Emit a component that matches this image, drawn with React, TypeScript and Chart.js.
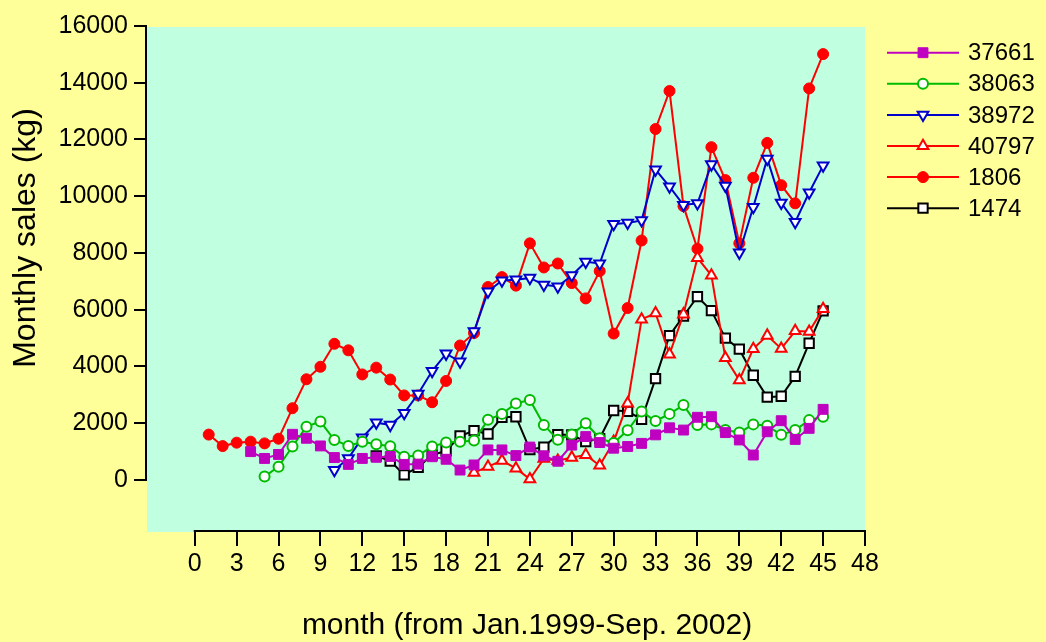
import React, { useEffect, useRef } from 'react';
import { Chart, registerables } from 'chart.js';
import { drawPoint } from 'chart.js/helpers';

Chart.register(...registerables);

// ---- data ----
const months = [
  1, 2, 3, 4, 5, 6, 7, 8, 9, 10, 11, 12, 13, 14, 15, 16, 17, 18, 19, 20, 21, 22, 23,
  24, 25, 26, 27, 28, 29, 30, 31, 32, 33, 34, 35, 36, 37, 38, 39, 40, 41, 42, 43, 44, 45,
];

const xTicks = [0, 3, 6, 9, 12, 15, 18, 21, 24, 27, 30, 33, 36, 39, 42, 45, 48];
const yTicks = [0, 2000, 4000, 6000, 8000, 10000, 12000, 14000, 16000];

const xTitle = 'month (from Jan.1999-Sep. 2002)';
const yTitle = 'Monthly sales (kg)';

const s37661 = [
  null, null, null, 1000, 760, 900, 1610, 1470, 1200, 790, 550, 760, 800,
  830, 550, 560, 820, 730, 350, 530, 1060, 1060, 860,
  1160, 850, 660, 1230, 1530, 1320, 1120, 1180, 1290, 1590,
  1840, 1760, 2210, 2230, 1670, 1410, 880, 1700, 2090, 1430,
  1820, 2490,
];

const s38063 = [
  null, null, null, null, 120, 470, 1180, 1880, 2060, 1410, 1200, 1350, 1260, 1190,
  820, 860, 1180, 1320, 1350, 1390, 2120, 2330, 2700, 2820,
  1940, 1420, 1600, 2000, 1470, 1300, 1750, 2410, 2080, 2330,
  2640, 1940, 1960, 1760, 1670, 1960, 1910, 1590, 1760, 2110,
  2230,
];

const s38972 = [
  null, null, null, null, null, null, null, null, null, 350, 760, 1490, 2020, 1940,
  2360, 3040, 3840, 4450, 4170, 5240, 6640, 7030, 7060, 7120,
  6880, 6820, 7210, 7690, 7630, 9020, 9060, 9150, 10940, 10340,
  9690, 9750, 11120, 10370, 8010, 9620, 11320, 9770, 9090, 10130,
  11080,
];

const s40797 = [
  null, null, null, null, null, null, null, null, null, null,
  null, null, null, null, null, null, null, null, null,
  260, 470, 680, 410, 30,
  750, 680, 790, 880, 510, 1350, 2700, 5660, 5880, 4430,
  5840, 7830, 7210, 4300, 3520, 4620, 5090, 4630, 5250, 5230,
  6030,
];

const s1806 = [
  1600, 1195, 1315, 1350, 1290, 1455, 2530, 3550, 3990, 4800,
  4570, 3720, 3960, 3540, 2980, 2980, 2740, 3490, 4740, 5180,
  6800, 7150, 6850, 8340, 7490, 7630, 6940, 6400, 7360, 5160,
  6060, 8440, 12370, 13710, 9650, 8150, 11730, 10570, 8340, 10650,
  11880, 10390, 9750, 13800, 15010,
];

const s1474 = [
  null, null, null, null, null, null, null, null, null, null, null, null,
  850, 670, 180, 450, 880, 1030, 1550, 1740, 1620, 2210,
  2230, 1070, 1160, 1600, 1590, 1350, 1460, 2450, 2420, 2140,
  3570, 5090, 5780, 6460, 5970, 5000, 4610, 3690, 2920, 2950,
  3650, 4820, 5960,
];

const seriesLabels = ['37661', '38063', '38972', '40797', '1806', '1474'];
const seriesValues = [s37661, s38063, s38972, s40797, s1806, s1474];

// ---- styles ----
const FONT = "'Liberation Sans', Arial, sans-serif";
const styles = [
  { color: '#C000C0', fill: '#C000C0', pointStyle: 'rect', radius: 7, rotation: 0, bw: 1 },
  { color: '#00BB00', fill: '#FFFFFF', pointStyle: 'circle', radius: 5, rotation: 0, bw: 2 },
  { color: '#0000CC', fill: '#FFFFFF', pointStyle: 'triangle', radius: 6.2, rotation: 180, bw: 2 },
  { color: '#FF0000', fill: '#FFFFFF', pointStyle: 'triangle', radius: 6.2, rotation: 0, bw: 2 },
  { color: '#FF0000', fill: '#FF0000', pointStyle: 'circle', radius: 5.5, rotation: 0, bw: 1 },
  { color: '#000000', fill: '#FFFFFF', pointStyle: 'rect', radius: 6.6, rotation: 0, bw: 2 },
];

const decor = {
  id: 'decor',
  beforeDraw(chart: any) {
    const { ctx, chartArea } = chart;
    ctx.save();
    ctx.fillStyle = '#C0FFE0';
    ctx.fillRect(chartArea.left, chartArea.top + 1, chartArea.right - chartArea.left, chartArea.bottom - chartArea.top - 1);
    ctx.restore();
  },
  afterDraw(chart: any) {
    const { ctx, chartArea } = chart;
    const xs = chart.scales.x;
    const ys = chart.scales.y;
    ctx.save();
    // axis lines
    ctx.strokeStyle = '#000';
    ctx.lineWidth = 2;
    ctx.beginPath();
    ctx.moveTo(chartArea.left - 1, ys.getPixelForValue(yTicks[yTicks.length - 1]) - 1);
    ctx.lineTo(chartArea.left - 1, ys.getPixelForValue(yTicks[0]) + 1);
    ctx.stroke();
    ctx.beginPath();
    ctx.moveTo(xs.getPixelForValue(xTicks[0]) - 1, chartArea.bottom - 1);
    ctx.lineTo(xs.getPixelForValue(xTicks[xTicks.length - 1]) + 1, chartArea.bottom - 1);
    ctx.stroke();

    // axis titles
    ctx.fillStyle = '#000';
    ctx.font = `30px ${FONT}`;
    ctx.textAlign = 'center';
    ctx.textBaseline = 'alphabetic';
    ctx.fillText(xTitle, 527, 634);

    ctx.save();
    ctx.translate(35, 238);
    ctx.rotate(-Math.PI / 2);
    ctx.font = `32px ${FONT}`;
    ctx.fillText(yTitle, 0, 0);
    ctx.restore();

    // legend
    const lx0 = 887;
    const lx1 = 959;
    const ly0 = 52.7;
    const step = 31.1;
    seriesLabels.forEach((label, i) => {
      const st = styles[i];
      const y = ly0 + i * step;
      ctx.strokeStyle = st.color;
      ctx.lineWidth = 2;
      ctx.beginPath();
      ctx.moveTo(lx0, y);
      ctx.lineTo(lx1, y);
      ctx.stroke();
      ctx.fillStyle = st.fill;
      ctx.strokeStyle = st.color;
      ctx.lineWidth = st.bw;
      drawPoint(ctx, { pointStyle: st.pointStyle, rotation: st.rotation, radius: st.radius, borderWidth: st.bw } as any, (lx0 + lx1) / 2, y);
      ctx.fillStyle = '#000';
      ctx.font = `24px ${FONT}`;
      ctx.textAlign = 'left';
      ctx.textBaseline = 'middle';
      ctx.fillText(label, 968, y + 1);
    });
    ctx.restore();
  },
};

export default function App() {
  const ref = useRef<HTMLCanvasElement>(null);

  useEffect(() => {
    const datasets = seriesLabels.map((label, i) => {
      const st = styles[i];
      return {
        label,
        data: months.map((m, j) => ({ x: m, y: seriesValues[i][j] })),
        borderColor: st.color,
        backgroundColor: st.fill,
        borderWidth: 2,
        tension: 0,
        pointStyle: st.pointStyle,
        pointRadius: st.radius,
        pointRotation: st.rotation,
        pointBackgroundColor: st.fill,
        pointBorderColor: st.color,
        pointBorderWidth: st.bw,
        spanGaps: false,
      };
    });

    const tickFont = { family: FONT, size: 25 };

    const chart = new Chart(ref.current as HTMLCanvasElement, {
      type: 'line',
      data: { datasets } as any,
      plugins: [decor],
      options: {
        responsive: false,
        devicePixelRatio: 1,
        animation: false,
        layout: { padding: { left: 0, right: 181, top: 26, bottom: 0 } },
        plugins: { legend: { display: false }, tooltip: { enabled: false }, title: { display: false } },
        scales: {
          x: {
            type: 'linear',
            min: -3.42,
            max: 48,
            afterBuildTicks: (s: any) => {
              s.ticks = xTicks.map((v) => ({ value: v }));
            },
            afterFit: (s: any) => {
              s.height = 110;
            },
            grid: { drawOnChartArea: false, drawTicks: true, tickLength: 14, color: '#000', lineWidth: 2 },
            border: { display: false },
            ticks: { color: '#000', font: tickFont, padding: 3, maxRotation: 0, autoSkip: false },
          },
          y: {
            type: 'linear',
            min: -1833,
            max: 16000,
            afterBuildTicks: (s: any) => {
              s.ticks = yTicks.map((v) => ({ value: v }));
            },
            afterFit: (s: any) => {
              s.width = 147;
            },
            grid: { drawOnChartArea: false, drawTicks: true, tickLength: 13, color: '#000', lineWidth: 2 },
            border: { display: false },
            ticks: { color: '#000', font: tickFont, padding: 6, callback: (v: any) => String(v) },
          },
        },
      } as any,
    });
    return () => chart.destroy();
  }, []);

  return (
    <div style={{ position: 'fixed', left: 0, top: 0, width: 1046, height: 642, background: '#FFFF99' }}>
      <canvas ref={ref} width={1046} height={642} style={{ display: 'block', width: 1046, height: 642 }} />
    </div>
  );
}
